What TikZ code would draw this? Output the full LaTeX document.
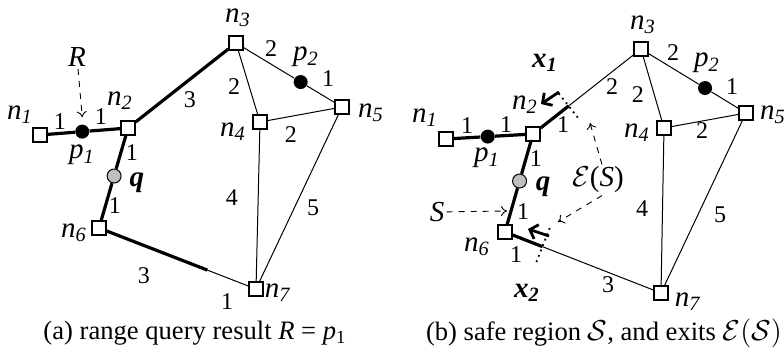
\documentclass[tikz,border=0pt]{standalone}
\usepackage{fontspec}
\setmainfont{Liberation Serif}
\usetikzlibrary{arrows.meta,calc,positioning}
\newcommand{\nn}[2]{\textit{#1}\textsubscript{\textit{#2}}}
\newcommand{\bnn}[2]{\textbf{\textit{#1}\textsubscript{#2}}}

\begin{document}
\begin{tikzpicture}[x=0.5pt,y=-0.5pt,
  nd/.style={draw, fill=white, line width=0.9pt, minimum size=6.8pt, inner sep=0pt},
  obj/.style={circle, fill=black, minimum size=7pt, inner sep=0pt},
  qry/.style={circle, draw, fill=gray!50, line width=0.5pt, minimum size=7pt, inner sep=0pt},
  lbl/.style={font=\fontsize{14.5}{15}\selectfont, inner sep=1pt},
  wt/.style={font=\fontsize{12}{13}\selectfont, inner sep=1pt},
  road/.style={line width=0.5pt},
  res/.style={line width=1.6pt},
  hint/.style={dashed, line width=0.45pt, -{To[length=3pt,width=5pt]}},
  cut/.style={dotted, line width=0.9pt},
  exit/.style={line width=1.4pt, -{Straight Barb[length=3.5pt,width=7.5pt]}},
  capt/.style={font=\fontsize{13.3}{15}\selectfont, inner sep=0pt},
]
\useasboundingbox (0,0) rectangle (784,353);
% (a) range query result
\node[nd] (an1) at (40,135) {};
\node[nd] (an2) at (128,128) {};
\node[nd] (an3) at (236,43) {};
\node[nd] (an4) at (260,122) {};
\node[nd] (an5) at (342,107) {};
\node[nd] (an6) at (99,228) {};
\node[nd] (an7) at (256,289) {};
\node[obj] (ap1) at ($(an1)!0.48!(an2)$) {};
\node[obj] (ap2) at ($(an3)!0.61!(an5)$) {};
\node[qry] (aq) at ($(an2)!0.48!(an6)$) {};
\coordinate (am) at ($(an6)!0.69!(an7)$);
\draw[res] (an1) -- (ap1) -- (an2) -- (an3);
\draw[res] (an2) -- (aq) -- (an6);
\draw[res] (an6) -- (am);
\draw[road] (am) -- (an7);
\draw[road] (an3) -- (ap2) -- (an5) -- (an4) -- (an3);
\draw[road] (an4) -- (an7) -- (an5);
\node[lbl] at (20,115)  {\nn{n}{1}};
\node[lbl] at (120,101) {\nn{n}{2}};
\node[lbl] at (238,18)  {\nn{n}{3}};
\node[lbl] at (233,132) {\nn{n}{4}};
\node[lbl] at (371,113) {\nn{n}{5}};
\node[lbl] at (74,233)  {\nn{n}{6}};
\node[lbl] at (278,293) {\nn{n}{7}};
\node[lbl] at (82,155)  {\nn{p}{1}};
\node[lbl] at (306,57)  {\nn{p}{2}};
\node[lbl] at (137,183) {\textbf{\textit{q}}};
\node[lbl] (aR) at (77,57) {\textit{R}};
\draw[hint] (aR) -- ([yshift=3.5pt]ap1.north);
\node[wt] at (60,122)  {1};
\node[wt] at (101,117) {1};
\node[wt] at (190,100) {3};
\node[wt] at (271,49)  {2};
\node[wt] at (328,79)  {1};
\node[wt] at (234,87)  {2};
\node[wt] at (291,135) {2};
\node[wt] at (132,153) {1};
\node[wt] at (115,206) {1};
\node[wt] at (232,198) {4};
\node[wt] at (313,208) {5};
\node[wt] at (144,276) {3};
\node[wt] at (227,302) {1};
% (b) safe region and exits
\node[nd] (bn1) at (446,139) {};
\node[nd] (bn2) at (533,134) {};
\node[nd] (bn3) at (641,49) {};
\node[nd] (bn4) at (664,128) {};
\node[nd] (bn5) at (746,113) {};
\node[nd] (bn6) at (505,232) {};
\node[nd] (bn7) at (661,293) {};
\node[obj] (bp1) at ($(bn1)!0.48!(bn2)$) {};
\node[obj] (bp2) at ($(bn3)!0.61!(bn5)$) {};
\node[qry] (bq) at ($(bn2)!0.48!(bn6)$) {};
\coordinate (bx1) at ($(bn2)!0.33!(bn3)$);
\coordinate (bx2) at ($(bn6)!0.24!(bn7)$);
\draw[res] (bn1) -- (bp1) -- (bn2) -- (bx1);
\draw[road] (bx1) -- (bn3);
\draw[res] (bn2) -- (bq) -- (bn6) -- (bx2);
\draw[road] (bx2) -- (bn7);
\draw[road] (bn3) -- (bp2) -- (bn5) -- (bn4) -- (bn3);
\draw[road] (bn4) -- (bn7) -- (bn5);
\draw[cut] ($(bx1)!8pt!90:(bn3)$) -- ($(bx1)!8pt!-90:(bn3)$);
\draw[cut] ($(bx2)!10pt!90:(bn7)$) -- ($(bx2)!10pt!-90:(bn7)$);
\coordinate (bx1s) at (559,92);
\coordinate (bx1e) at (541,104);
\coordinate (bx2s) at (549,236);
\coordinate (bx2e) at (528,229);
\draw[exit] (bx1s) -- (bx1e);
\draw[exit] (bx2s) -- (bx2e);
\node[lbl] at (425,118) {\nn{n}{1}};
\node[lbl] at (525,105) {\nn{n}{2}};
\node[lbl] at (643,25)  {\nn{n}{3}};
\node[lbl] at (637,133) {\nn{n}{4}};
\node[lbl] at (773,115) {\nn{n}{5}};
\node[lbl] at (477,247) {\nn{n}{6}};
\node[lbl] at (688,302) {\nn{n}{7}};
\node[lbl] at (487,158) {\nn{p}{1}};
\node[lbl] at (707,63)  {\nn{p}{2}};
\node[lbl] at (543,187) {\textbf{\textit{q}}};
\node[lbl] at (545,63)  {\bnn{x}{\textit{1}}};
\node[lbl] at (527,293) {\bnn{x}{\textit{2}}};
\node[lbl] (bE) at (598,180) {$\mathcal{E}$(\textit{S})};
\node[lbl] (bS) at (437,212) {\textit{S}};
\coordinate (bc1) at (590,123);
\coordinate (bc2) at (558,222);
\coordinate (bc3) at (507,211);
\draw[hint] ([xshift=2pt]bE.north) -- (bc1);
\draw[hint] ([xshift=2pt]bE.south) -- (bc2);
\draw[hint] (bS) -- (bc3);
\node[wt] at (467,126) {1};
\node[wt] at (506,125) {1};
\node[wt] at (563,125) {1};
\node[wt] at (612,87)  {2};
\node[wt] at (673,53)  {2};
\node[wt] at (732,87)  {1};
\node[wt] at (638,95)  {2};
\node[wt] at (702,131) {2};
\node[wt] at (536,159) {1};
\node[wt] at (523,212) {1};
\node[wt] at (642,209) {4};
\node[wt] at (720,215) {5};
\node[wt] at (516,255) {1};
\node[wt] at (608,285) {3};
% captions
\node[capt] (capa) at (195,333) {(a) range query result \textit{R} = \textit{p}\textsubscript{1}};
\node[capt] (capb) at (604,333) {(b) safe region $\mathcal{S}$, and exits $\mathcal{E}(\mathcal{S})$};
\end{tikzpicture}
\end{document}
